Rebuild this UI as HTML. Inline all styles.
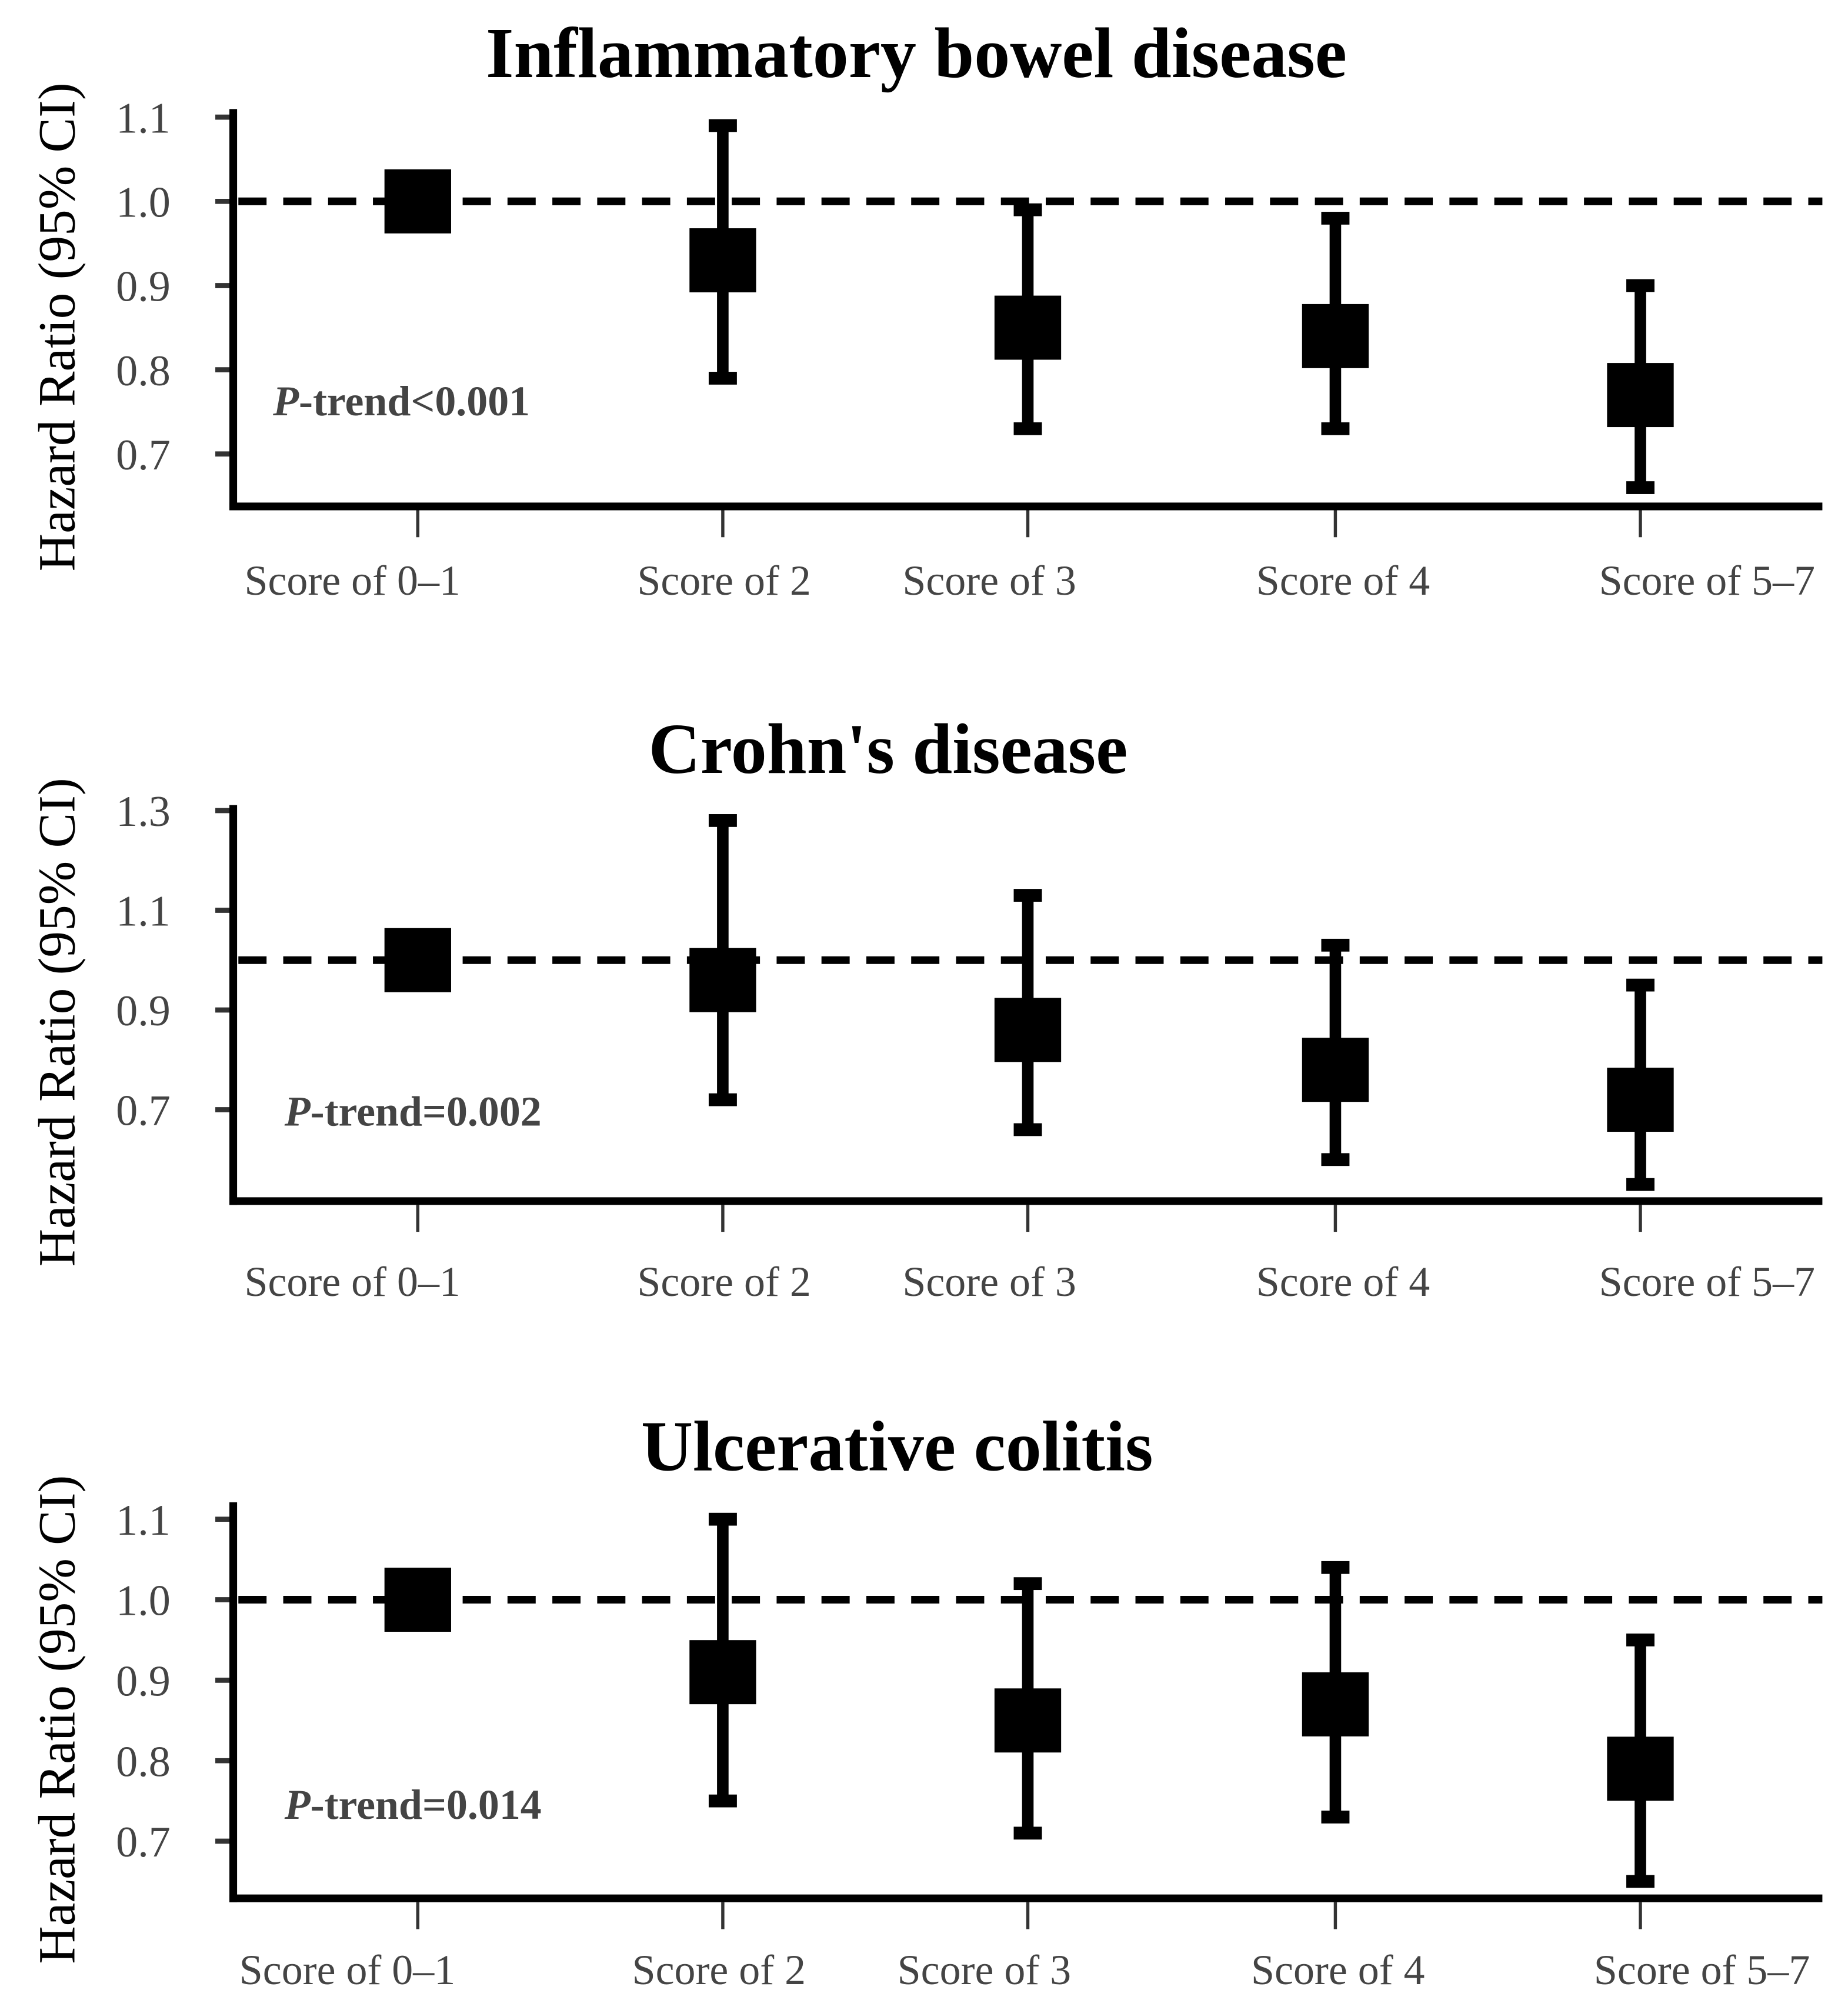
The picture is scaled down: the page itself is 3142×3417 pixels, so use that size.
<!DOCTYPE html>
<html><head><meta charset="utf-8">
<style>html,body{margin:0;padding:0;background:#fff}svg{display:block}</style>
</head><body>
<svg id="chart" xmlns="http://www.w3.org/2000/svg" width="3142" height="3417" viewBox="0 0 1442 1568"></svg>
<script>
const categories = ["Score of 0–1","Score of 2","Score of 3","Score of 4","Score of 5–7"];
const ibdHR = [1.00,0.93,0.85,0.84,0.77];
const ibdLo = [1.00,0.79,0.73,0.73,0.66];
const ibdHi = [1.00,1.09,0.99,0.98,0.90];
const ibdTicks = ["1.1","1.0","0.9","0.8","0.7"];
const cdHR = [1.00,0.96,0.86,0.78,0.72];
const cdLo = [1.00,0.72,0.66,0.60,0.55];
const cdHi = [1.00,1.28,1.13,1.03,0.95];
const cdTicks = ["1.3","1.1","0.9","0.7"];
const ucHR = [1.00,0.91,0.85,0.87,0.79];
const ucLo = [1.00,0.75,0.71,0.73,0.65];
const ucHi = [1.00,1.10,1.02,1.04,0.95];
const ucTicks = ["1.1","1.0","0.9","0.8","0.7"];

const NS="http://www.w3.org/2000/svg";
const svg=document.getElementById('chart');
function mk(tag,attrs,parent){const e=document.createElementNS(NS,tag);for(const k in attrs)e.setAttribute(k,attrs[k]);(parent||svg).appendChild(e);return e;}

const catX=[326,564,802,1042,1280];
const labX=[275,565,772,1048,1332];

function panel(o){
  const g=mk('g',{});
  
  
  const y=v=>o.y1+(1.0-v)*o.perUnit;
  const t=mk('text',{x:o.tx,y:o.ty,'text-anchor':'middle','font-family':'Liberation Serif, serif','font-weight':'bold','font-size':56,fill:'#000'},g);
  t.textContent=o.title;
  
  
  const yt=mk('text',{x:0,y:0,transform:`translate(58,${(o.top+o.bottom)/2+15}) rotate(-90)`,'text-anchor':'middle','font-family':'Liberation Serif, serif','font-size':41,fill:'#000'},g);
  yt.textContent='Hazard Ratio (95% CI)';
  
  
  o.ticks.forEach(s=>{
    const v=parseFloat(s);const yy=y(v);
    const tk=mk('line',{x1:168,x2:182,y1:yy,y2:yy,stroke:'#333','stroke-width':4},g);
    
    
    const tl=mk('text',{x:133,y:yy+12,'text-anchor':'end','font-family':'Liberation Serif, serif','font-size':34,fill:'#444'},g);
    tl.textContent=s;
    
    
  });
  const rl=mk('line',{x1:186,x2:1422,y1:y(1),y2:y(1),stroke:'#000','stroke-width':6,'stroke-dasharray':'22 13'},g);
  
  
  const ya=mk('line',{x1:182,x2:182,y1:o.top,y2:o.bottom+3,stroke:'#000','stroke-width':6},g);
  
  
  const xa=mk('line',{x1:179,x2:1422,y1:o.bottom,y2:o.bottom,stroke:'#000','stroke-width':6},g);
  
  
  categories.forEach((c,i)=>{
    const xt=mk('line',{x1:catX[i],x2:catX[i],y1:o.bottom+3,y2:o.bottom+24,stroke:'#333','stroke-width':2.5},g);
    
    
    const xl=mk('text',{x:labX[i]+o.lx,y:o.ly,'text-anchor':'middle','font-family':'Liberation Serif, serif','font-size':33,fill:'#444'},g);
    xl.textContent=c;
    
    
    const cx=catX[i];
    if(o.hi[i]!==o.lo[i]){
      const eb=mk('line',{x1:cx,x2:cx,y1:y(o.hi[i]),y2:y(o.lo[i]),stroke:'#000','stroke-width':9},g);
      
      
      [o.hi[i],o.lo[i]].forEach(v=>{
        const cp=mk('rect',{x:cx-11,y:y(v)-5,width:22,height:10,fill:'#000'},g);
        
        
      });
    }
    const sq=mk('rect',{x:cx-26,y:y(o.hr[i])-25,width:52,height:50,fill:'#000'},g);
    
    
  });
  const pt=mk('text',{x:o.px,y:o.py,'font-family':'Liberation Serif, serif','font-weight':'bold','font-size':33,fill:'#444'},g);
  const it=mk('tspan',{'font-style':'italic'},pt);it.textContent='P';
  const rest=mk('tspan',{},pt);rest.textContent=o.ptext;
  
  
}

panel({name:'ibd',title:'Inflammatory bowel disease',tx:715,ty:60,top:85,bottom:395,y1:157,perUnit:657,ticks:ibdTicks,hr:ibdHR,lo:ibdLo,hi:ibdHi,px:213,py:324,ptext:'-trend<0.001',ly:464,lx:0});
panel({name:'crohns',title:"Crohn's disease",tx:693,ty:603,top:628,bottom:937,y1:749,perUnit:389,ticks:cdTicks,hr:cdHR,lo:cdLo,hi:cdHi,px:222,py:878,ptext:'-trend=0.002',ly:1011,lx:0});
panel({name:'uc',title:'Ulcerative colitis',tx:700,ty:1147,top:1172,bottom:1481,y1:1248,perUnit:628,ticks:ucTicks,hr:ucHR,lo:ucLo,hi:ucHi,px:222,py:1419,ptext:'-trend=0.014',ly:1548,lx:-4})
</script>
</body></html>
